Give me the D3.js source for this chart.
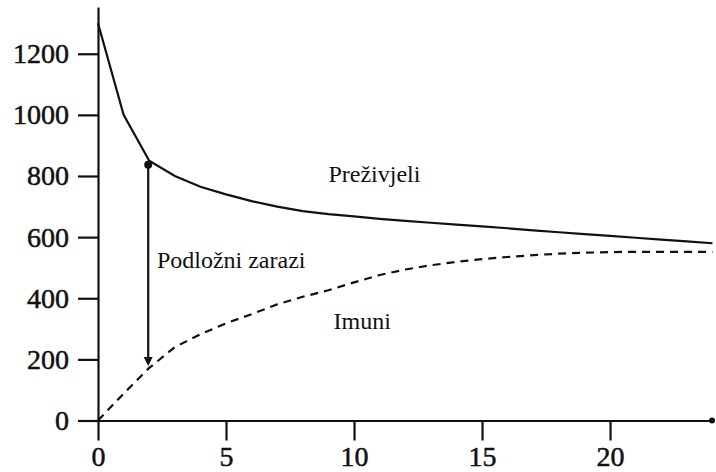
<!DOCTYPE html>
<html>
<head>
<meta charset="utf-8">
<script src="https://cdn.jsdelivr.net/npm/d3@7"></script>
<style>
  body { margin: 0; background: #fff; }
  svg { display: block; }
</style>
</head>
<body>
<div class="one"></div>
<script>
// time steps and the two curves
const days = d3.range(0, 25);
const survivors = [1300, 1000, 850, 800, 765, 740, 718, 700, 685, 675, 668, 660, 653,
                   647, 641, 635, 629, 622, 616, 610, 604, 598, 592, 586, 580];
const immune = [0, 88, 172, 240, 282, 318, 348, 380, 405, 426, 452, 476, 494,
                508, 519, 528, 535, 541, 546, 549, 551, 552, 552, 552, 552];
const xTicks = [0, 5, 10, 15, 20];
const yTicks = [0, 200, 400, 600, 800, 1000, 1200];
const markDay = 2;
const labels = [
  {text: "Preživjeli", t: 9.0, v: 780},
  {text: "Podložni zarazi", t: 2.3, v: 500},
  {text: "Imuni", t: 9.2, v: 300}
];

const serif = "\"Liberation Serif\", serif";
let width = 716, height = 472;

let svg = d3.select(".one").append("svg")
  .attr("width", width)
  .attr("height", height);

let xScale = d3.scaleLinear().domain([0, 24.06]).range([98, 714]);
let yScale = d3.scaleLinear().domain([0, 1353]).range([420.5, 7]);

let xAxis = d3.axisBottom(xScale).tickValues(xTicks).tickSizeInner(20).tickSizeOuter(0)
  .tickPadding(6).tickFormat(d3.format("d"));
let yAxis = d3.axisLeft(yScale).tickValues(yTicks).tickSizeInner(20).tickSizeOuter(0)
  .tickPadding(9).tickFormat(d3.format("d"));

let gx = svg.append("g")
  .attr("transform", "translate(0," + yScale(0) + ")")
  .call(xAxis);
let gy = svg.append("g")
  .attr("transform", "translate(" + xScale(0) + ",0)")
  .call(yAxis);

[gx, gy].forEach(function(g) {
  g.selectAll("path, line").attr("stroke", "#111").attr("stroke-width", 2.2);
  g.selectAll("text")
    .attr("fill", "#111")
    .attr("stroke", "#111")
    .attr("stroke-width", 0.5)
    .style("font-family", serif, "important")
    .style("font-size", "28px", "important");
});

// end marker of the time axis
svg.append("circle")
  .attr("cx", xScale(24.06) - 2)
  .attr("cy", yScale(0))
  .attr("r", 3)
  .attr("fill", "#111");

let line = d3.line()
  .x(function(d, i) { return xScale(days[i]); })
  .y(function(d) { return yScale(d); });

svg.append("path")
  .datum(survivors)
  .attr("d", line)
  .attr("fill", "none")
  .attr("stroke", "#111")
  .attr("stroke-width", 2.2);

svg.append("path")
  .datum(immune)
  .attr("d", line)
  .attr("fill", "none")
  .attr("stroke", "#111")
  .attr("stroke-width", 2.2)
  .attr("stroke-dasharray", "8,6");

// vertical arrow between the curves
let i0 = days.indexOf(markDay);
let ax = xScale(markDay) - 1;
let yTop = yScale(survivors[i0]) + 4;
let yBot = yScale(immune[i0]) - 2;

svg.append("line")
  .attr("x1", ax).attr("x2", ax)
  .attr("y1", yTop).attr("y2", yBot - 6)
  .attr("stroke", "#111")
  .attr("stroke-width", 2.2);

svg.append("circle")
  .attr("cx", ax).attr("cy", yTop)
  .attr("r", 4)
  .attr("fill", "#111");

svg.append("path")
  .attr("d", "M" + (ax - 4.5) + "," + (yBot - 9) + "L" + (ax + 4.5) + "," + (yBot - 9) + "L" + ax + "," + yBot + "Z")
  .attr("fill", "#111");

svg.selectAll(".lbl")
  .data(labels)
  .enter().append("text")
  .attr("class", "lbl")
  .attr("x", function(d) { return xScale(d.t); })
  .attr("y", function(d) { return yScale(d.v); })
  .attr("fill", "#111")
  .style("font-family", serif, "important")
  .style("font-size", "24px", "important")
  .text(function(d) { return d.text; });
</script>
</body>
</html>
